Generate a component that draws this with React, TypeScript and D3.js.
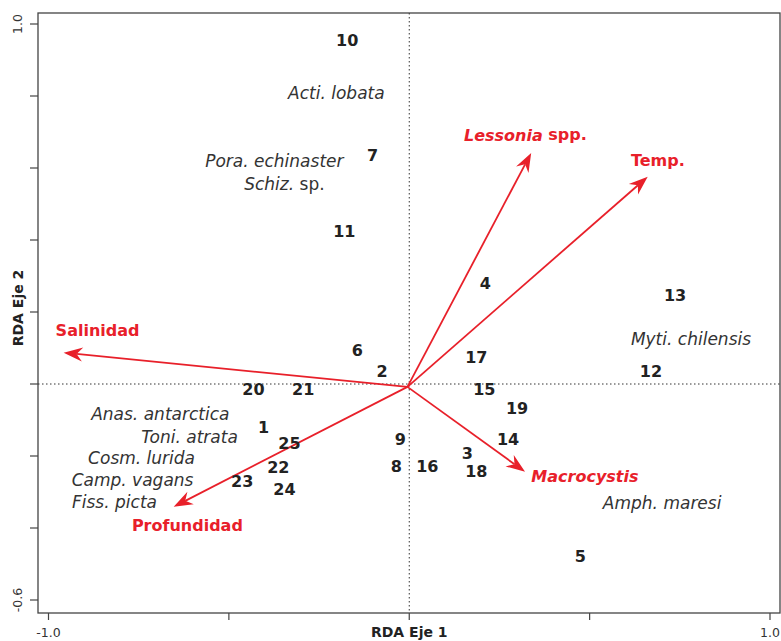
import React from "react";
import * as d3 from "d3";

const sites = ["10","7","11","4","13","6","2","17","12","20","21","15","19","1","25","9","14","3","8","16","18","22","23","24","5"];
const siteX = [-0.172,-0.102,-0.180,0.211,0.737,-0.144,-0.075,0.186,0.670,-0.432,-0.294,0.208,0.299,-0.404,-0.332,-0.025,0.274,0.161,-0.036,0.050,0.186,-0.363,-0.463,-0.346,0.474];
const siteY = [0.953,0.636,0.425,0.278,0.247,0.092,0.036,0.075,0.036,-0.014,-0.014,-0.014,-0.069,-0.122,-0.164,-0.153,-0.153,-0.192,-0.228,-0.228,-0.244,-0.233,-0.272,-0.292,-0.478];

const speciesGenus = ["Acti.","Pora.","Schiz.","Myti.","Anas.","Toni.","Cosm.","Camp.","Fiss.","Amph."];
const speciesEpithet = ["lobata","echinaster","sp.","chilensis","antarctica","atrata","lurida","vagans","picta","maresi"];
const speciesX = [-0.202,-0.374,-0.346,0.781,-0.690,-0.609,-0.742,-0.767,-0.817,0.701];
const speciesY = [0.808,0.619,0.556,0.125,-0.083,-0.147,-0.206,-0.267,-0.328,-0.331];

const envNames = ["Lessonia","Temp.","Salinidad","Profundidad","Macrocystis"];
const envX = [0.338,0.661,-0.958,-0.653,0.321];
const envY = [0.642,0.576,0.087,-0.341,-0.244];
const envLabelX = [0.322,0.689,-0.864,-0.615,0.487];
const envLabelY = [0.693,0.622,0.149,-0.392,-0.256];

const xTicks = [-1, -0.5, 0, 0.5, 1];
const yTicks = [-0.6, -0.4, -0.2, 0, 0.2, 0.4, 0.6, 0.8, 1.0];
const xTickLabels = ["-1.0", "", "", "", "1.0"];
const yTickLabels = ["-0.6", "", "", "", "", "", "", "", "1.0"];

const W = 781, H = 641;
const box = { left: 38, right: 780, top: 13, bottom: 613 };
const FONT = "'DejaVu Sans', 'Open Sans', sans-serif";
const RED = "#e8202a";

export default function App() {
  const x = d3.scaleLinear().domain([-1, 1]).range([48.5, 770]);
  const y = d3.scaleLinear().domain([-0.6, 1.0]).range([600, 24]);
  const ox = x(-0.005), oy = y(-0.008);

  const arrows = envNames.map((n, i) => {
    const tx = x(envX[i]), ty = y(envY[i]);
    const dx = tx - ox, dy = ty - oy;
    const len = Math.hypot(dx, dy);
    const ux = dx / len, uy = dy / len;
    const px = -uy, py = ux;
    const L = 19, Wd = 7, N = 13;
    const bx = tx - ux * L, by = ty - uy * L;
    const nx = tx - ux * N, ny = ty - uy * N;
    const head = `M${tx},${ty}L${bx + px * Wd},${by + py * Wd}L${nx},${ny}L${bx - px * Wd},${by - py * Wd}Z`;
    return { line: `M${ox},${oy}L${nx},${ny}`, head };
  });

  return (
    <svg width={W} height={H} style={{ position: "absolute", left: 0, top: 0, background: "#fff" }} fontFamily={FONT}>
      <rect x={box.left} y={box.top} width={box.right - box.left} height={box.bottom - box.top} fill="none" stroke="#444" strokeWidth={1.3} />
      <line x1={x(0)} x2={x(0)} y1={box.top} y2={box.bottom} stroke="#333" strokeWidth={1} strokeDasharray="1.5,2.5" />
      <line x1={box.left} x2={box.right} y1={y(0)} y2={y(0)} stroke="#333" strokeWidth={1} strokeDasharray="1.5,2.5" />
      {xTicks.map((t, i) => (
        <g key={"xt" + i}>
          <line x1={x(t)} x2={x(t)} y1={box.bottom} y2={box.bottom + 7} stroke="#444" strokeWidth={1.2} />
          {xTickLabels[i] && (
            <text x={x(t)} y={box.bottom + 24} textAnchor="middle" fontSize={12.5} fill="#333">{xTickLabels[i]}</text>
          )}
        </g>
      ))}
      {yTicks.map((t, i) => (
        <g key={"yt" + i}>
          <line x1={box.left - 8} x2={box.left} y1={y(t)} y2={y(t)} stroke="#444" strokeWidth={1.2} />
          {yTickLabels[i] && (
            <text transform={`translate(${box.left - 16},${y(t)}) rotate(-90)`} textAnchor="middle" fontSize={12.5} fill="#333">{yTickLabels[i]}</text>
          )}
        </g>
      ))}
      <text x={x(0)} y={637} textAnchor="middle" fontSize={14} fontWeight={700} fill="#222">RDA Eje 1</text>
      <text transform={`translate(23,${308}) rotate(-90)`} textAnchor="middle" fontSize={14} fontWeight={700} fill="#222">RDA Eje 2</text>

      {arrows.map((a, i) => (
        <g key={"ar" + i}>
          <path d={a.line} stroke={RED} strokeWidth={1.8} fill="none" />
          <path d={a.head} fill={RED} stroke="none" />
        </g>
      ))}
      {envNames.map((n, i) => (
        <text key={"el" + i} x={x(envLabelX[i])} y={y(envLabelY[i])} textAnchor="middle" dominantBaseline="central" fontSize={16} fontWeight={700} fill={RED}>
          {n === "Lessonia" ? (<><tspan fontStyle="italic">Lessonia</tspan> spp.</>) : n === "Macrocystis" ? (<tspan fontStyle="italic">{n}</tspan>) : n}
        </text>
      ))}

      {speciesGenus.map((g, i) => (
        <text key={"sp" + i} x={x(speciesX[i])} y={y(speciesY[i])} textAnchor="middle" dominantBaseline="central" fontSize={17} fill="#333">
          <tspan fontStyle="italic">{g}</tspan>{" "}
          <tspan fontStyle={speciesEpithet[i] === "sp." ? "normal" : "italic"}>{speciesEpithet[i]}</tspan>
        </text>
      ))}

      {sites.map((s, i) => (
        <text key={"s" + i} x={x(siteX[i])} y={y(siteY[i])} textAnchor="middle" dominantBaseline="central" fontSize={16} fontWeight={700} fill="#222">{s}</text>
      ))}
    </svg>
  );
}
